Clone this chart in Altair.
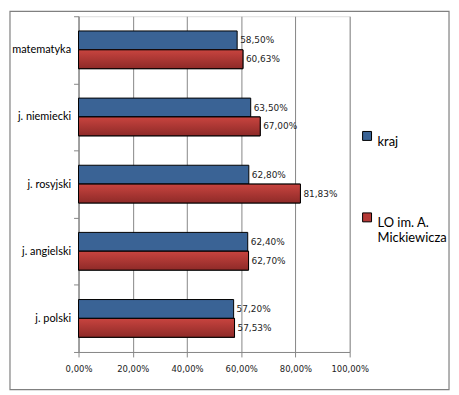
import altair as alt
import pandas as pd

categories = ["matematyka", "j. niemiecki", "j. rosyjski", "j. angielski", "j. polski"]
series = ["kraj", "LO im. A. Mickiewicza"]
kraj = [58.50, 63.50, 62.80, 62.40, 57.20]
lo = [60.63, 67.00, 81.83, 62.70, 57.53]
x_ticks = [0, 20, 40, 60, 80, 100]

rows = []
for c, k, l in zip(categories, kraj, lo):
    rows.append({"cat": c, "series": series[0], "value": k})
    rows.append({"cat": c, "series": series[1], "value": l})
df = pd.DataFrame(rows)

BLUE = "#3A6395"
RED = "#B53936"

y_enc = alt.Y(
    "cat:N", sort=categories,
    scale=alt.Scale(paddingInner=0, paddingOuter=0),
    axis=alt.Axis(title=None, tickBand="extent", labelFont="Lato", labelFontSize=11,
                  labelColor="black", domainColor="#868686", tickColor="#868686",
                  tickSize=5, labelPadding=3, grid=False),
)
yoff = alt.YOffset("series:N", sort=series,
                   scale=alt.Scale(paddingInner=0, paddingOuter=0.78))
x_enc = alt.X(
    "value:Q", scale=alt.Scale(domain=[0, 100], nice=False),
    axis=alt.Axis(values=x_ticks, title=None, grid=True, gridColor="#868686",
                  gridWidth=1, domainColor="#868686", tickColor="#868686", tickSize=5,
                  labelFont="DejaVu Sans", labelFontSize=8.5, labelColor="#222222",
                  labelPadding=8, labelFlush=False,
                  labelExpr="replace(format(datum.value, '.2f'), '.', ',') + '%'"),
)

base = alt.Chart(df)

bars = base.mark_bar(stroke="black", strokeWidth=1).encode(
    x=x_enc, y=y_enc, yOffset=yoff,
    color=alt.Color("series:N", sort=series,
                    scale=alt.Scale(domain=series, range=[BLUE, RED]),
                    legend=alt.Legend(title=None, orient="none", legendX=284, legendY=114,
                                      symbolType="square", symbolSize=81,
                                      symbolStrokeColor="black", symbolStrokeWidth=1,
                                      labelFont="Lato", labelFontSize=13, labelColor="black",
                                      rowPadding=62, labelOffset=4, labelBaseline="top",
                                      labelExpr="datum.label == 'LO im. A. Mickiewicza' ? ['LO im. A.', 'Mickiewicza'] : datum.label")),
)

grad = alt.Gradient(gradient="linear", x1=0, x2=0, y1=0, y2=1,
                    stops=[alt.GradientStop(color="#C8443F", offset=0),
                           alt.GradientStop(color="#8E2A28", offset=1)])
red_over = base.transform_filter(alt.datum.series == series[1]).mark_bar(
    color=grad, stroke="black", strokeWidth=1
).encode(x="value:Q", y=alt.Y("cat:N", sort=categories), yOffset=alt.YOffset("series:N", sort=series))

labels = base.transform_calculate(
    lab="replace(format(datum.value, '.2f'), '.', ',') + '%'"
).mark_text(align="left", baseline="middle", dx=3, font="DejaVu Sans", fontSize=9,
            color="#222222").encode(
    x="value:Q", y=alt.Y("cat:N", sort=categories),
    yOffset=alt.YOffset("series:N", sort=series), text="lab:N")

border = alt.Chart(pd.DataFrame({"a": [0]})).mark_rect(
    fillOpacity=0, stroke="#808080", strokeWidth=1.2
).encode(x=alt.value(-69), x2=alt.value(373), y=alt.value(-5), y2=alt.value(376))

chart = alt.layer(border, bars, red_over, labels).properties(
    width=273, height=338,
    autosize=alt.AutoSizeParams(type="none"),
    padding={"left": 71, "top": 7, "right": 102, "bottom": 40},
).configure_view(stroke=None).configure(background="white")

chart.save("out.html", embed_options={"renderer": "svg", "actions": False})
